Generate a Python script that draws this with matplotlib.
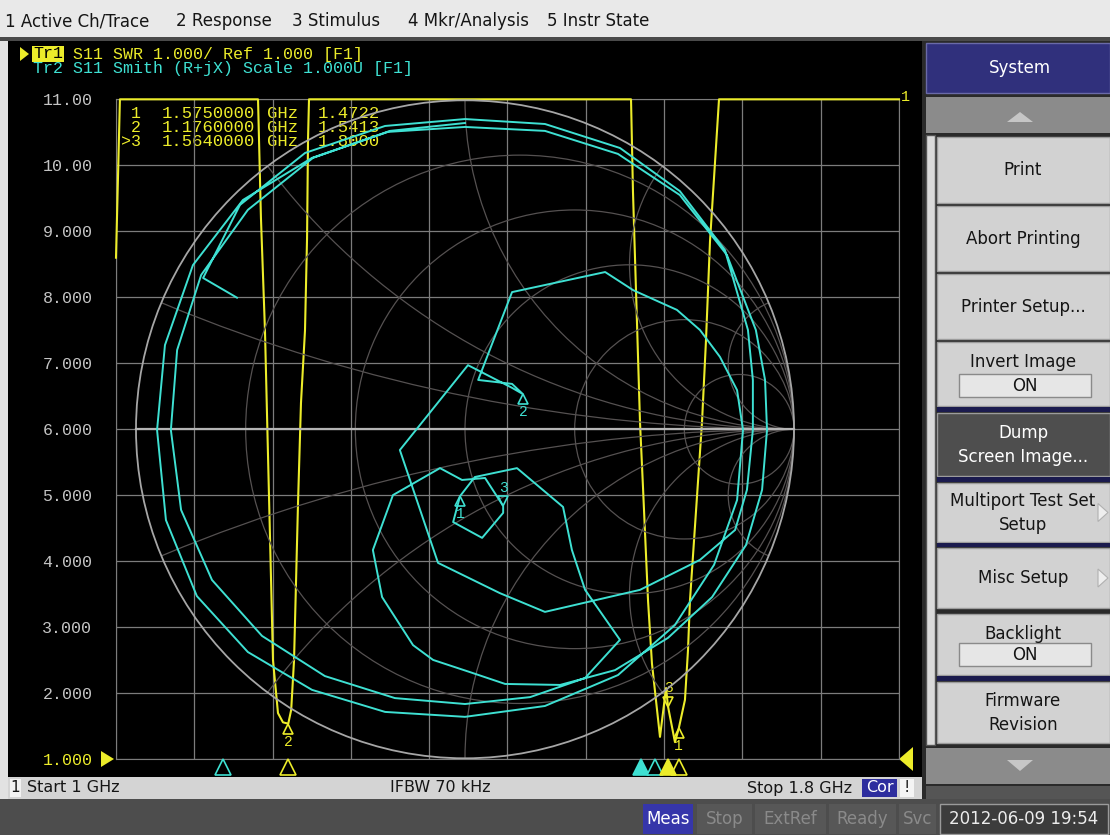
import numpy as np
import matplotlib.pyplot as plt
from matplotlib.patches import Rectangle, Circle, Polygon
from matplotlib.transforms import offset_copy, blended_transform_factory

W, H = 1110, 835
YEL = '#ecec2a'
CYA = '#3ee0d2'
GRID = '#7c7c7c'
SGRID = '#555151'
LBL = '#c4c4c4'
MONO = 'Liberation Mono'
SANS = 'DejaVu Sans'

# ---------------- data ----------------
# Tr1  S11 SWR vs frequency (GHz); 11.0 = pinned on the top edge
swr_freq = [1.000, 1.004, 1.1451, 1.1481, 1.1522, 1.1563, 1.1604, 1.1655, 1.1706, 1.1760,
            1.1790, 1.1819, 1.1860, 1.1890, 1.1931, 1.1952, 1.1962, 1.1972,
            1.5262, 1.5282, 1.5313, 1.5354, 1.5385, 1.5436, 1.5476, 1.5558,
            1.5620, 1.5640, 1.5711, 1.5750, 1.5813, 1.5844, 1.5864, 1.5987,
            1.6028, 1.6069, 1.6161, 1.800]
swr_val = [8.6, 11.0, 11.0, 9.2, 7.5, 5.0, 2.5, 1.7, 1.56, 1.54,
           1.75, 2.5, 4.9, 6.4, 7.5, 8.9, 10.4, 11.0,
           11.0, 9.6, 8.1, 6.1, 5.1, 3.4, 2.45, 1.34,
           2.08, 1.80, 1.26, 1.47, 1.9, 2.65, 3.4, 6.1,
           7.35, 8.85, 11.0, 11.0]

mkr_names = ['1', '2', '>3']
mkr_freq = [1.575, 1.176, 1.564]
mkr_swr = [1.4722, 1.5413, 1.8000]
mkr_above = [False, False, True]   # number drawn above the symbol?

# Tr2  S11 on the Smith chart (reflection coefficient), in sweep order
g_re = [-0.693, -0.796, -0.684, -0.486, -0.243, 0.000, 0.243, 0.471, 0.653, 0.790,
        0.860, 0.875, 0.875, 0.857, 0.821,
        0.714, 0.532, 0.243, 0.106, -0.082, -0.198, 0.009, 0.143, 0.176, 0.143,
        0.040, 0.143, 0.426, 0.511, 0.644, 0.714, 0.775, 0.827,
        0.845, 0.827, 0.757, 0.638, 0.465, 0.243, 0.000, -0.243, -0.465, -0.660,
        -0.815, -0.909, -0.936, -0.912, -0.827, -0.675, -0.465, -0.234, 0.000, 0.243,
        0.465, 0.653, 0.796, 0.884, 0.912, 0.918, 0.903, 0.854, 0.751, 0.617,
        0.456, 0.289,
        0.122, 0.015, -0.097, -0.158, -0.252, -0.280, -0.219, -0.076, -0.009, 0.061,
        0.116, 0.116, 0.052, -0.036, -0.015, 0.030, 0.158, 0.298, 0.325, 0.365, 0.471,
        0.365, 0.198, 0.000, -0.213, -0.426, -0.617, -0.769, -0.863, -0.894, -0.875,
        -0.802, -0.660, -0.462, -0.228, 0.000]
g_im = [0.400, 0.460, 0.682, 0.840, 0.922, 0.943, 0.928, 0.855, 0.724, 0.545,
        0.302, 0.150, -0.002, -0.184, -0.306,
        -0.397, -0.488, -0.555, -0.498, -0.406, -0.063, 0.195, 0.126, 0.107, 0.138,
        0.150, 0.417, 0.478, 0.423, 0.363, 0.302, 0.220, 0.119,
        -0.002, -0.215, -0.412, -0.595, -0.747, -0.841, -0.874, -0.859, -0.792, -0.677,
        -0.507, -0.276, -0.002, 0.256, 0.499, 0.697, 0.825, 0.904, 0.919, 0.907,
        0.837, 0.712, 0.530, 0.302, 0.150, -0.002, -0.184, -0.352, -0.510, -0.634,
        -0.732, -0.777,
        -0.774, -0.738, -0.701, -0.656, -0.510, -0.367, -0.200, -0.118, -0.154, -0.148,
        -0.233, -0.254, -0.330, -0.282, -0.203, -0.145, -0.118, -0.236, -0.367, -0.488,
        -0.640,
        -0.756, -0.814, -0.835, -0.817, -0.750, -0.628, -0.458, -0.245, -0.002, 0.241,
        0.469, 0.667, 0.825, 0.907, 0.931]
smk_names = ['1', '2', '3']
smk_re = [-0.015, 0.176, 0.116]
smk_im = [-0.203, 0.107, -0.233]
smk_above = [False, False, True]
tr2_ind_freq = [1.109, 1.536, 1.551]
tr2_ind_active = [False, True, False]

y_labels = ['1.000', '2.000', '3.000', '4.000', '5.000', '6.000',
            '7.000', '8.000', '9.000', '10.00', '11.00']
smith_r = [0.2, 0.5, 1.0, 2.0, 5.0]
smith_x = [0.2, 0.5, 1.0, 2.0, 5.0]

menu = [(5, '1 Active Ch/Trace'), (176, '2 Response'), (292, '3 Stimulus'),
        (408, '4 Mkr/Analysis'), (547, '5 Instr State')]
buttons = [(['Print'], 137, 203, 'n'), (['Abort Printing'], 206, 271, 'n'),
           (['Printer Setup...'], 274, 339, 'n'), (['Invert Image'], 342, 406, 'on'),
           (['Dump', 'Screen Image...'], 413, 476, 'dark'),
           (['Multiport Test Set', 'Setup'], 483, 542, 'arrow'),
           (['Misc Setup'], 548, 608, 'arrow'), (['Backlight'], 614, 675, 'on'),
           (['Firmware', 'Revision'], 682, 743, 'n')]

# ---------------- figure / chrome ----------------
fig = plt.figure(figsize=(W / 100, H / 100), dpi=100)
fig.patch.set_facecolor('#dedede')
ui = fig.add_axes([0, 0, 1, 1])
ui.set_xlim(0, W)
ui.set_ylim(H, 0)
ui.axis('off')


def box(x0, y0, x1, y1, fc, ec='none', lw=0, z=1):
    ui.add_patch(Rectangle((x0, y0), x1 - x0, y1 - y0, facecolor=fc,
                           edgecolor=ec, linewidth=lw, zorder=z))


def label(x, y, s, color='#151515', size=12, ha='center', family=SANS, z=5, **kw):
    ui.text(x, y, s, color=color, fontsize=size, ha=ha, va='center',
            family=family, zorder=z, **kw)


# menu bar
box(0, 0, W, 38, '#e9e9e9')
box(0, 37, W, 41, '#4a4a4a')
for mx, s in menu:
    label(mx, 21, s, ha='left', size=12)

# chart window
box(0, 41, 8, 800, '#e2e2e2')
box(8, 41, 922, 777, 'black')

# channel status bar
box(8, 777, 922, 799, '#d4d4d4')
box(10, 779, 21, 797, '#f2f2f2')
label(15.5, 788, '1', size=11)
label(27, 788, 'Start 1 GHz', ha='left', size=11.5)
label(440, 788, 'IFBW 70 kHz', size=11.5)
label(852, 788, 'Stop 1.8 GHz', ha='right', size=11.5)
box(862, 779, 897, 797, '#2d2d9e')
label(879.5, 788, 'Cor', color='white', size=11.5)
box(900, 779, 914, 797, '#f4f4f4')
label(907, 788, '!', size=11.5)

# instrument status bar
box(0, 799, W, H, '#4d4d4d')
status = [('Meas', 643, 693, '#3636aa', 'white'), ('Stop', 697, 752, '#575757', '#8a8a8a'),
          ('ExtRef', 755, 826, '#575757', '#8a8a8a'), ('Ready', 829, 896, '#575757', '#8a8a8a'),
          ('Svc', 899, 936, '#575757', '#8a8a8a')]
for s, x0, x1, fc, tc in status:
    box(x0, 804, x1, 834, fc)
    label((x0 + x1) / 2, 819, s, color=tc, size=12)
box(940, 804, 1108, 834, '#3c3c3c', ec='#9a9a9a', lw=1)
label(1024, 819, '2012-06-09 19:54', color='#ececec', size=12)

# softkey panel
box(922, 41, W, 799, '#2a2a2a')
box(926, 43, W, 93, '#30307c', ec='#6a6aa8', lw=1)
label(1020, 68, 'System', color='white', size=12)
box(926, 97, W, 133, '#8b8b8b')
ui.add_patch(Polygon([(1007, 122), (1033, 122), (1020, 112)], closed=True,
                     facecolor='#c6c6c6', edgecolor='none', zorder=2))
box(926, 135, 935, 745, '#dadada', ec='#555555', lw=1)
for lines, y0, y1, kind in buttons:
    fc = '#4e4e4e' if kind == 'dark' else '#d2d2d2'
    tc = 'white' if kind == 'dark' else '#151515'
    box(937, y0, W, y1, fc, ec='#9c9c9c', lw=1)
    if kind == 'on':
        box(959, y1 - 32, 1091, y1 - 9, '#e6e6e6', ec='#8a8a8a', lw=1, z=2)
        label(1023, y0 + 20, lines[0], color=tc)
        label(1025, y1 - 20, 'ON', color=tc)
    elif len(lines) == 2:
        label(1023, (y0 + y1) / 2 - 12, lines[0], color=tc)
        label(1023, (y0 + y1) / 2 + 12, lines[1], color=tc)
    else:
        label(1023, (y0 + y1) / 2, lines[0], color=tc)
    if kind == 'arrow':
        ym = (y0 + y1) / 2
        ui.add_patch(Polygon([(1098, ym - 9), (1098, ym + 9), (1108, ym)], closed=True,
                             facecolor='#eeeeee', edgecolor='#b0b0b0', lw=0.8, zorder=3))
for y0, y1 in [(407, 412), (477, 482), (543, 547), (676, 681)]:
    box(937, y0, W, y1, '#1b1b4e')
box(926, 748, W, 784, '#8b8b8b')
ui.add_patch(Polygon([(1007, 760), (1033, 760), (1020, 771)], closed=True,
                     facecolor='#c6c6c6', edgecolor='none', zorder=2))
box(926, 786, W, 799, '#555555')

# trace header
ui.add_patch(Polygon([(20, 47), (20, 61), (29, 54)], closed=True, facecolor=YEL,
                     edgecolor='none', zorder=3))
label(33, 54, 'Tr1', color='black', size=12, ha='left', family=MONO,
      bbox=dict(facecolor=YEL, edgecolor='none', pad=0.6))
label(63, 54, ' S11 SWR 1.000/ Ref 1.000 [F1]', color=YEL, size=12, ha='left', family=MONO)
label(33, 68, 'Tr2 S11 Smith (R+jX) Scale 1.000U [F1]', color=CYA, size=12,
      ha='left', family=MONO)

# ref position indicators
ui.add_patch(Polygon([(101, 751), (101, 767), (114, 759)], closed=True,
                     facecolor=YEL, edgecolor='none', zorder=3))
ui.add_patch(Polygon([(913, 747), (913, 771), (899, 759)], closed=True,
                     facecolor=YEL, edgecolor='none', zorder=3))
label(906, 97, '1', color=YEL, size=11, family=MONO)

# ---------------- SWR axes ----------------
gx0, gx1, gy0, gy1 = 116, 899, 99.3, 759.3
pos = [gx0 / W, 1 - gy1 / H, (gx1 - gx0) / W, (gy1 - gy0) / H]
ax = fig.add_axes(pos)
ax.set_facecolor('none')
ax.set_xlim(1.0, 1.8)
ax.set_ylim(1, 11)
ax.set_xticks(np.linspace(1.0, 1.8, 11))
ax.set_xticklabels([])
ax.set_yticks(range(1, 12))
ax.set_yticklabels(y_labels, family=MONO, fontsize=12, color=LBL)
ax.get_yticklabels()[0].set_color(YEL)
ax.tick_params(length=0, pad=17)
ax.grid(True, color=GRID, lw=0.9)
ax.set_axisbelow(True)
for sp in ax.spines.values():
    sp.set_color(GRID)

# ---------------- Smith axes ----------------
sx = fig.add_axes(pos)
sx.set_facecolor('none')
sx.set_xlim((gx0 - 465) / 329, (gx1 - 465) / 329)
sx.set_ylim((429.3 - gy1) / 329, (429.3 - gy0) / 329)
sx.axis('off')
unit = Circle((0, 0), 1, transform=sx.transData)
for r in smith_r:
    sx.add_patch(Circle((r / (1 + r), 0), 1 / (1 + r), fill=False, ec=SGRID, lw=0.9))
for xv in smith_x:
    for sgn in (1, -1):
        c = Circle((1, sgn / xv), 1 / xv, fill=False, ec=SGRID, lw=0.9)
        sx.add_patch(c)
        c.set_clip_path(unit)
sx.add_patch(Circle((0, 0), 1, fill=False, ec='#a6a6a6', lw=1.3))
sx.plot([-1, 1], [0, 0], color='#b4b4b4', lw=1.6)

# traces
ax.plot(swr_freq, np.clip(swr_val, 1, 11), color=YEL, lw=1.5, clip_on=False, zorder=4)
sx.plot(g_re, g_im, color=CYA, lw=1.4, zorder=4)

# marker table
for i, nm in enumerate(mkr_names):
    yy = 114 + 14 * i
    label(141, yy, nm, color=YEL, size=12, ha='right', family=MONO)
    label(162, yy, '%.7f' % mkr_freq[i], color=YEL, size=12.4, ha='left', family=MONO)
    label(267, yy, 'GHz', color=YEL, size=12.4, ha='left', family=MONO)
    label(318, yy, '%.4f' % mkr_swr[i], color=YEL, size=12.4, ha='left', family=MONO)


def draw_marker(axis, x, y, name, above, color):
    if above:
        t1 = offset_copy(axis.transData, fig=fig, x=0, y=5, units='dots')
        t2 = offset_copy(axis.transData, fig=fig, x=0, y=18, units='dots')
        mk = 'v'
    else:
        t1 = offset_copy(axis.transData, fig=fig, x=0, y=-5, units='dots')
        t2 = offset_copy(axis.transData, fig=fig, x=0, y=-18, units='dots')
        mk = '^'
    axis.plot([x], [y], marker=mk, ms=7, mfc='none', mec=color, mew=1.2,
              transform=t1, clip_on=False, zorder=6)
    axis.text(x, y, name, transform=t2, color=color, fontsize=10.5, family=MONO,
              ha='center', va='center', zorder=6)


for f, v, nm, ab in zip(mkr_freq, mkr_swr, mkr_names, mkr_above):
    draw_marker(ax, f, v, nm.strip('>'), ab, YEL)
for re_, im_, nm, ab in zip(smk_re, smk_im, smk_names, smk_above):
    draw_marker(sx, re_, im_, nm, ab, CYA)

# stimulus position indicators below the grid
bt = blended_transform_factory(ax.transData, ax.transAxes)
for f, act in zip(tr2_ind_freq, tr2_ind_active):
    ax.plot([f], [-0.011], marker='^', ms=11, mec=CYA, mew=1.2,
            mfc=CYA if act else 'black', transform=bt, clip_on=False, zorder=6)
for f, nm in zip(mkr_freq, mkr_names):
    act = nm.startswith('>')
    ax.plot([f], [-0.011], marker='^', ms=11, mec=YEL, mew=1.2,
            mfc=YEL if act else 'black', transform=bt, clip_on=False, zorder=6)

fig.savefig('out.png', dpi=100, facecolor=fig.get_facecolor())
